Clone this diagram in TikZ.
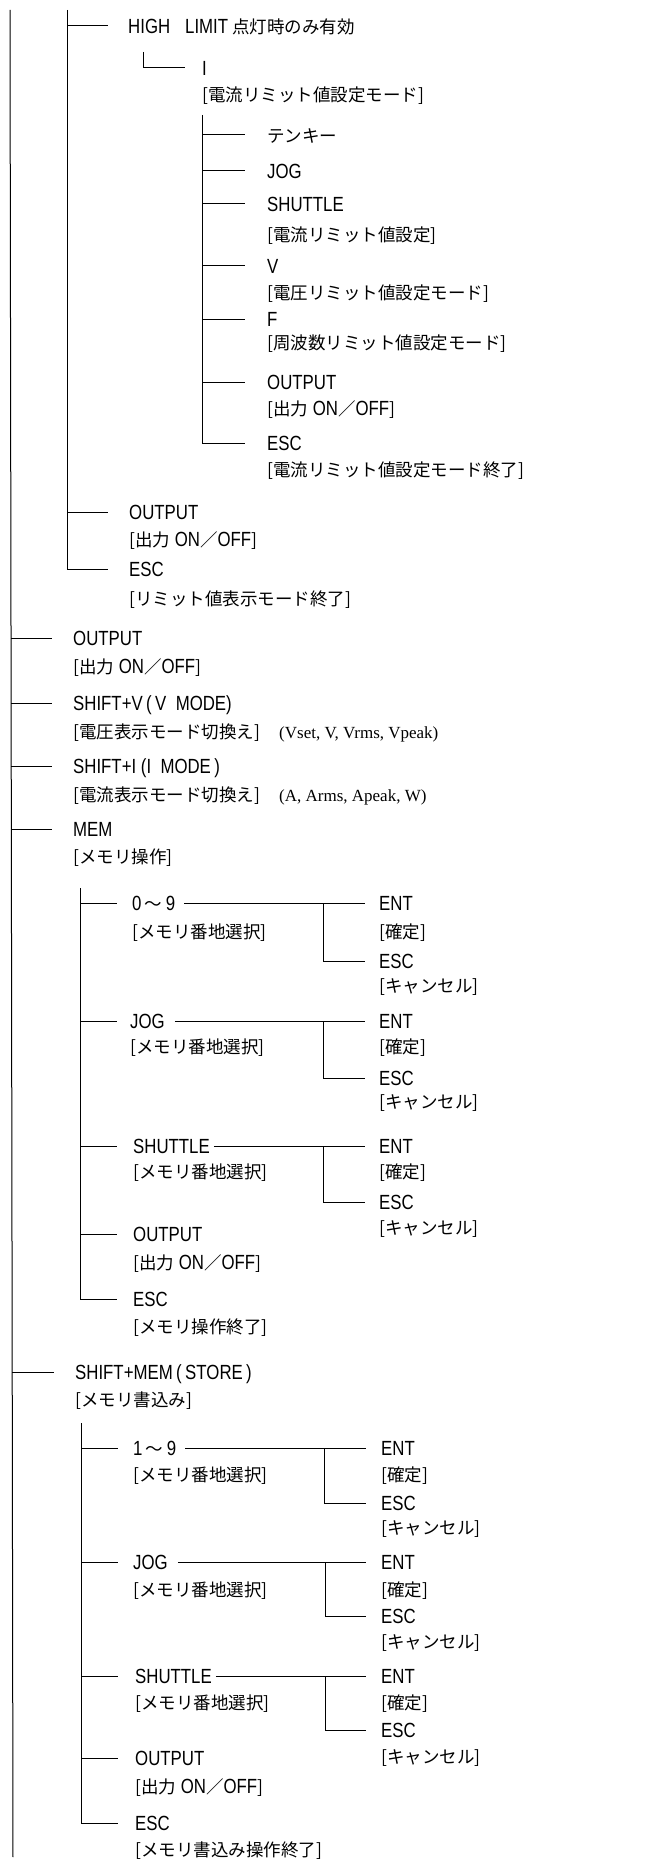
\documentclass[tikz,border=0pt]{standalone}
\usepackage{fontspec}
\setmainfont{Liberation Sans}[FakeStretch=0.82]
\newfontfamily\cjkfont{Noto Sans CJK JP}
\newfontfamily\serfont{Liberation Serif}
\newcommand\jp[1]{{\cjkfont\fontsize{17.5}{20}\selectfont #1}}
\newcommand\keyfont{\fontsize{20.5}{24}\selectfont}
\newcommand\serf{\serfont\fontsize{17}{20}\selectfont}
\tikzset{
  key/.style={anchor=west, inner sep=0pt, text height=15pt, text depth=0pt, font=\keyfont},
  desc/.style={anchor=west, inner sep=0pt, text height=13pt, text depth=0pt, font=\keyfont},
  ln/.style={line width=1pt, line cap=butt},
}
\begin{document}
\begin{tikzpicture}[x=1pt,y=-1pt]
\useasboundingbox (0,0) rectangle (656,1862);
\fill[white] (0,0) rectangle (656,1862);

% ---------------- top part (limit display) ----------------
\node[key] (hl) at (128,26) {HIGH\hspace{15pt}LIMIT\hspace{4pt}\jp{点灯時のみ有効}};
\node[key] (kI) at (202,68) {I};
\node[desc] (dI) at (202,95) {\jp{[電流リミット値設定モード]}};
\node[key] (tk) at (267,135) {\jp{テンキー}};
\node[key] (jog1) at (267,171) {JOG};
\node[key] (sh1) at (267,204) {SHUTTLE};
\node[desc] (dsh1) at (267,235) {\jp{[電流リミット値設定]}};
\node[key] (v1) at (267,266) {V};
\node[desc] (dv1) at (267,293) {\jp{[電圧リミット値設定モード]}};
\node[key] (f1) at (267,319) {F};
\node[desc] (df1) at (267,343) {\jp{[周波数リミット値設定モード]}};
\node[key] (out4) at (267,382) {OUTPUT};
\node[desc] (dout4) at (267,409) {\jp{[出力} ON\jp{／}OFF\jp{]}};
\node[key] (esc4) at (267,443) {ESC};
\node[desc] (desc4) at (267,470) {\jp{[電流リミット値設定モード終了]}};
\node[key] (out2) at (129,512) {OUTPUT};
\node[desc] (dout2) at (129,540) {\jp{[出力} ON\jp{／}OFF\jp{]}};
\node[key] (esc2) at (129,569) {ESC};
\node[desc] (desc2) at (129,599) {\jp{[リミット値表示モード終了]}};

% ---------------- level 1 ----------------
\node[key] (out1) at (73,638) {OUTPUT};
\node[desc] (dout1) at (73,667) {\jp{[出力} ON\jp{／}OFF\jp{]}};
\node[key] (sv) at (73,703) {SHIFT+V\,(\,V\ \ MODE)};
\node[desc] (dsv) at (73,732) {\jp{[電圧表示モード切換え]}};
\node[desc] (psv) at (279,732) {\serf (Vset, V, Vrms, Vpeak)};
\node[key] (si) at (73,766) {SHIFT+I\ (I\ \ MODE\,)};
\node[desc] (dsi) at (73,795) {\jp{[電流表示モード切換え]}};
\node[desc] (psi) at (279,795) {\serf (A, Arms, Apeak, W)};
\node[key] (mem) at (73,829) {MEM};
\node[desc] (dmem) at (73,857) {\jp{[メモリ操作]}};
\node[key] (st) at (75,1372) {SHIFT+MEM\,(\,STORE\,)};
\node[desc] (dst) at (75,1400) {\jp{[メモリ書込み]}};

% ---------------- MEM subtree ----------------
\node[key] (m09) at (132,903) {0\,\jp{～}\,9};
\node[desc] (dm09) at (132,932) {\jp{[メモリ番地選択]}};
\node[key] (ent1) at (379,903) {ENT};
\node[desc] (dent1) at (379,932) {\jp{[確定]}};
\node[key] (esca) at (379,961) {ESC};
\node[desc] (desca) at (379,986) {\jp{[キャンセル]}};
\node[key] (mjog) at (130,1021) {JOG};
\node[desc] (dmjog) at (130,1047) {\jp{[メモリ番地選択]}};
\node[key] (ent2) at (379,1021) {ENT};
\node[desc] (dent2) at (379,1047) {\jp{[確定]}};
\node[key] (escb) at (379,1078) {ESC};
\node[desc] (descb) at (379,1102) {\jp{[キャンセル]}};
\node[key] (msh) at (133,1146) {SHUTTLE};
\node[desc] (dmsh) at (133,1172) {\jp{[メモリ番地選択]}};
\node[key] (ent3) at (379,1146) {ENT};
\node[desc] (dent3) at (379,1172) {\jp{[確定]}};
\node[key] (escc) at (379,1202) {ESC};
\node[desc] (descc) at (379,1228) {\jp{[キャンセル]}};
\node[key] (mout) at (133,1234) {OUTPUT};
\node[desc] (dmout) at (133,1263) {\jp{[出力} ON\jp{／}OFF\jp{]}};
\node[key] (mesc) at (133,1299) {ESC};
\node[desc] (dmesc) at (133,1327) {\jp{[メモリ操作終了]}};

% ---------------- STORE subtree ----------------
\node[key] (s19) at (133,1448) {1\,\jp{～}\,9};
\node[desc] (ds19) at (133,1475) {\jp{[メモリ番地選択]}};
\node[key] (ent4) at (381,1448) {ENT};
\node[desc] (dent4) at (381,1475) {\jp{[確定]}};
\node[key] (escd) at (381,1503) {ESC};
\node[desc] (descd) at (381,1528) {\jp{[キャンセル]}};
\node[key] (sjog) at (133,1562) {JOG};
\node[desc] (dsjog) at (133,1590) {\jp{[メモリ番地選択]}};
\node[key] (ent5) at (381,1562) {ENT};
\node[desc] (dent5) at (381,1590) {\jp{[確定]}};
\node[key] (esce) at (381,1616) {ESC};
\node[desc] (desce) at (381,1642) {\jp{[キャンセル]}};
\node[key] (ssh) at (135,1676) {SHUTTLE};
\node[desc] (dssh) at (135,1703) {\jp{[メモリ番地選択]}};
\node[key] (ent6) at (381,1676) {ENT};
\node[desc] (dent6) at (381,1703) {\jp{[確定]}};
\node[key] (escf) at (381,1730) {ESC};
\node[desc] (descf) at (381,1757) {\jp{[キャンセル]}};
\node[key] (sout) at (135,1758) {OUTPUT};
\node[desc] (dsout) at (135,1787) {\jp{[出力} ON\jp{／}OFF\jp{]}};
\node[key] (sesc) at (135,1823) {ESC};
\node[desc] (dsesc) at (135,1850) {\jp{[メモリ書込み操作終了]}};

% ---------------- trunks ----------------
\coordinate (T0a) at (10,10);
\coordinate (T0b) at (13,1857);
\draw[ln] (T0a) -- (T0b);
\draw[ln] (67,10) -- (67,569);
\draw[ln] (202,115) -- (202,443);
\draw[ln] (80,888) -- (80,1299);
\draw[ln] (81,1423) -- (81,1823);

% ---------------- branches ----------------
\draw[ln] (67,26) -- ([xshift=-20]hl.west);
\draw[ln] (143,52) |- ([xshift=-17]kI.west);
\foreach \n in {tk,jog1,sh1,v1,f1,out4,esc4}
  \draw[ln] (202,0 |- \n.west) -- ([xshift=-22]\n.west);
\foreach \n in {out2,esc2}
  \draw[ln] (67,0 |- \n.west) -- ([xshift=-21]\n.west);
\draw[ln] (11.1,638) -- ([xshift=-21]out1.west);
\draw[ln] (11.2,703) -- ([xshift=-21]sv.west);
\draw[ln] (11.3,766) -- ([xshift=-21]si.west);
\draw[ln] (11.5,829) -- ([xshift=-21]mem.west);
\draw[ln] (12.4,1372) -- ([xshift=-21]st.west);
\foreach \n in {m09,mjog,msh,mout,mesc}
  \draw[ln] (80,0 |- \n.west) -- (117,0 |- \n.west);
\foreach \n in {s19,sjog,ssh,sout,sesc}
  \draw[ln] (81,0 |- \n.west) -- (118,0 |- \n.west);

% key -> ENT / ESC
\draw[ln] ([xshift=9]m09.east) -- ([xshift=-14]ent1.west);
\draw[ln] (323,903) |- ([xshift=-14]esca.west);
\draw[ln] ([xshift=10]mjog.east) -- ([xshift=-14]ent2.west);
\draw[ln] (323,1021) |- ([xshift=-14]escb.west);
\draw[ln] ([xshift=4]msh.east) -- ([xshift=-14]ent3.west);
\draw[ln] (323,1146) |- ([xshift=-14]escc.west);
\draw[ln] ([xshift=9]s19.east) -- ([xshift=-15]ent4.west);
\draw[ln] (324,1448) |- ([xshift=-15]escd.west);
\draw[ln] ([xshift=10]sjog.east) -- ([xshift=-15]ent5.west);
\draw[ln] (325,1562) |- ([xshift=-15]esce.west);
\draw[ln] ([xshift=4]ssh.east) -- ([xshift=-15]ent6.west);
\draw[ln] (325,1676) |- ([xshift=-15]escf.west);
\end{tikzpicture}
\end{document}
